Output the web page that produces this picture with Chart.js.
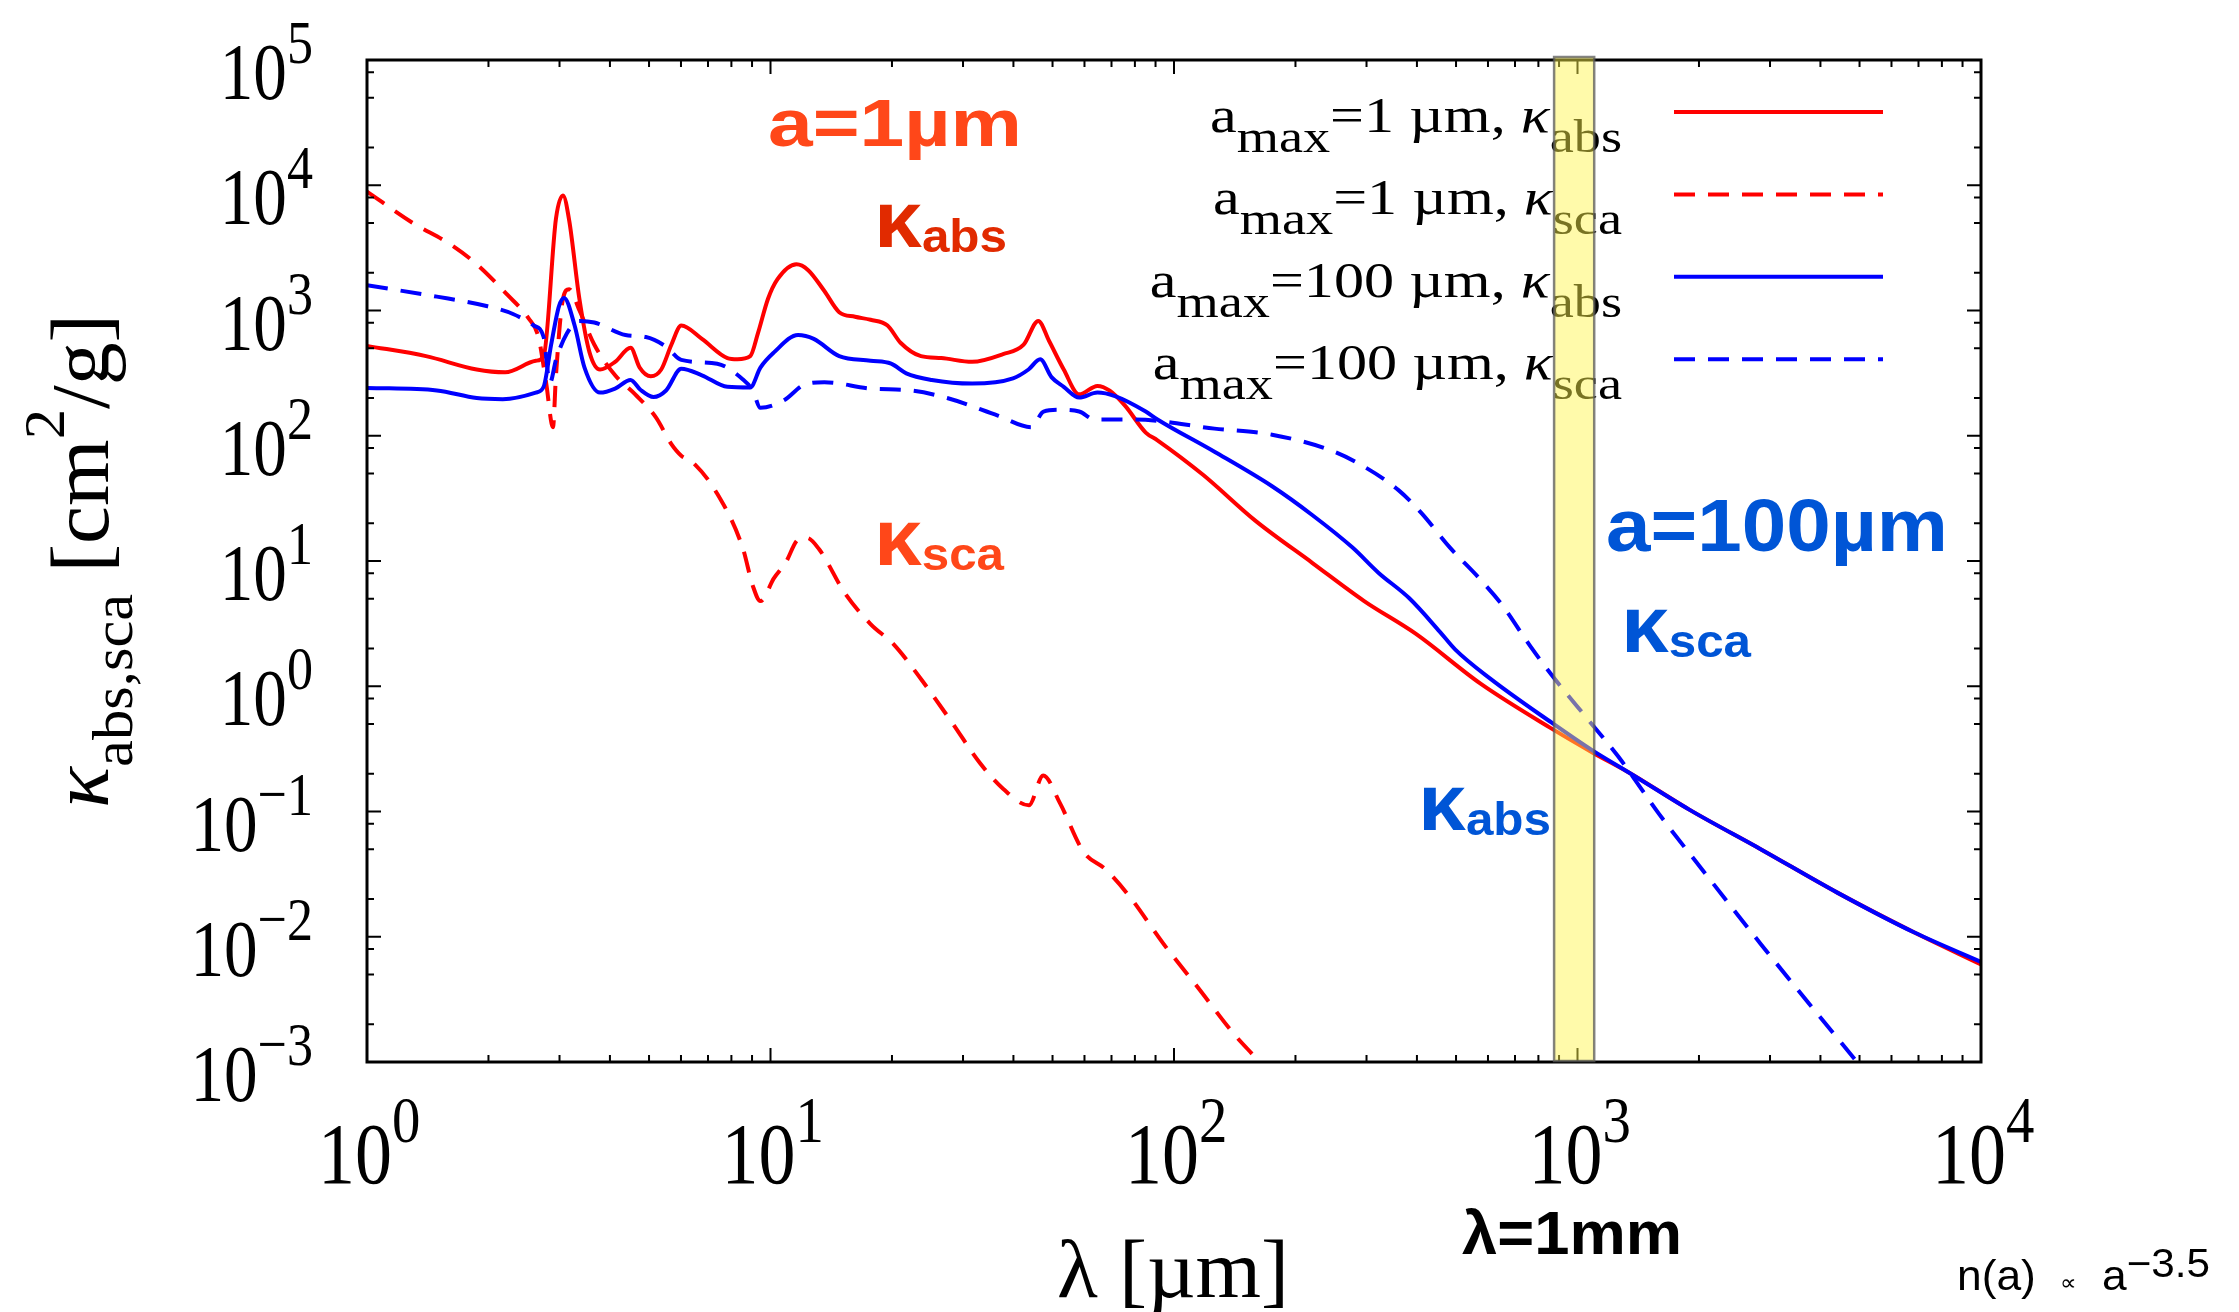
<!DOCTYPE html>
<html>
<head>
<meta charset="utf-8">
<script src="https://cdn.jsdelivr.net/npm/chart.js@4.4.0/dist/chart.umd.min.js"></script>
<style>
  body { margin: 0; background: #fff; }
  #wrap { width: 2239px; height: 1312px; }
</style>
</head>
<body>
<div id="wrap"><canvas id="chart"></canvas></div>
<script>
// wavelength [um] and opacity [cm^2/g]

// a_max = 1 um, absorption
const lamAbs1 = [1.0, 1.40, 1.87, 2.20, 2.62, 2.74, 2.94, 3.06, 3.17, 3.36, 3.56, 3.78, 4.12, 4.50, 4.74, 5.05,
  5.36, 5.68, 6.01, 6.76, 7.82, 8.28, 8.91, 9.31, 9.86, 10.4, 11.6, 12.4, 13.6, 14.8, 16.2, 17.7, 19.5, 21.0,
  23.6, 26.5, 31.6, 37.7, 42.4, 46.1, 49.0, 53.3, 58.2, 64.6, 69.3, 75.7, 85.1, 91.0, 118, 159, 220, 296, 397,
  575, 865, 1091, 1337, 1897, 2851, 4416, 6839, 10000];
const kapAbs1 = [522, 432, 338, 321, 397, 432, 5430, 8300, 5250, 1240, 463, 338, 389, 505, 350, 298,
  338, 533, 758, 593, 417, 408, 432, 659, 1240, 1770, 2340, 2100, 1430, 970, 891, 843, 759, 553,
  432, 417, 389, 448, 533, 826, 573, 338, 214, 250, 229, 173, 106, 92, 48.8, 21.0, 9.68, 4.79, 2.63,
  1.05, 0.457, 0.295, 0.206, 0.103, 0.0498, 0.0224, 0.0108, 0.0060];

// a_max = 1 um, scattering
const lamSca1 = [1.0, 1.29, 1.62, 1.87, 2.23, 2.51, 2.66, 2.78, 2.89, 2.94, 3.06, 3.17, 3.36, 3.66, 4.12, 4.62,
  5.20, 5.68, 6.01, 6.38, 7.38, 8.53, 9.04, 9.44, 10.2, 10.9, 11.7, 12.3, 13.2, 15.3, 17.7, 20.2, 23.8, 28.1,
  33.0, 37.7, 43.7, 47.4, 52.2, 59.6, 67.9, 77.4, 94.2, 115, 140, 157, 178];
const kapSca1 = [8900, 5070, 3330, 2340, 1330, 873, 614, 264, 117, 304, 1240, 1480, 1005, 533, 304, 214,
  140, 85.7, 69.3, 62.4, 34.4, 12.8, 6.34, 4.79, 7.29, 9.68, 14.8, 15.3, 12.4, 5.51, 3.14, 2.16, 1.10, 0.519,
  0.245, 0.152, 0.112, 0.194, 0.116, 0.048, 0.0342, 0.0212, 0.00877, 0.00388, 0.00171, 0.00114, 0.00074];

// a_max = 100 um, absorption
const lamAbs100 = [1.0, 1.49, 1.87, 2.17, 2.62, 2.74, 2.86, 2.99, 3.08, 3.27, 3.46, 3.78, 4.12, 4.50, 4.76, 5.13,
  5.51, 6.01, 6.76, 7.82, 8.91, 9.44, 10.2, 11.7, 12.8, 14.8, 17.7, 19.9, 21.7, 25.1, 31.6, 39.9, 43.6, 46.6,
  49.7, 53.3, 58.2, 64.6, 71.4, 85.1, 91.0, 126, 175, 220, 277, 321, 383, 456, 498, 610, 865, 1091, 1337,
  1897, 2851, 4416, 6839, 10000];
const kapAbs100 = [241, 230, 200, 196, 221, 246, 533, 1080, 1260, 759, 350, 221, 238, 279, 233, 204,
  230, 343, 304, 246, 243, 350, 463, 637, 593, 432, 397, 376, 315, 279, 261, 287, 338, 408,
  294, 246, 202, 221, 207, 156, 135, 74.5, 39.5, 23.3, 12.8, 8.07, 5.04, 2.72, 1.96, 1.14, 0.509, 0.306, 0.206,
  0.103, 0.0498, 0.0224, 0.0108, 0.0063];

// a_max = 100 um, scattering
const lamSca100 = [1.0, 1.49, 1.99, 2.30, 2.59, 2.74, 2.84, 2.94, 3.13, 3.36, 3.66, 4.37, 4.91, 5.51, 6.01, 7.38,
  8.53, 9.04, 9.44, 10.8, 12.1, 13.6, 17.7, 22.3, 27.4, 36.6, 44.3, 47.5, 51.9, 58.2, 63.5, 79.8, 126, 175,
  243, 286, 360, 410, 483, 570, 650, 766, 865, 1059, 1262, 1592, 2070, 2851, 3819, 4955];
const kapSca100 = [1590, 1290, 1080, 938, 759, 614, 264, 403, 659, 826, 802, 637, 614, 515, 403, 376,
  283, 230, 167, 192, 255, 268, 238, 230, 200, 145, 117, 156, 161, 156, 135, 135, 114, 102,
  77.1, 60.3, 36.8, 24.2, 12.8, 7.31, 4.47, 2.06, 1.22, 0.548, 0.275, 0.0957, 0.0322, 0.00869, 0.00272, 0.00098];

// axes
const xTickExp = [0, 1, 2, 3, 4];
const yTickExp = [-3, -2, -1, 0, 1, 2, 3, 4, 5];
const xMinor = [2, 3, 4, 5, 6, 7, 8, 9];
const yMinor = [2, 5, 8];
const band1mm = [875, 1100];

const legendRows = [
  { a: '1', k: 'abs', color: '#ff0000', dash: [] },
  { a: '1', k: 'sca', color: '#ff0000', dash: [21, 13] },
  { a: '100', k: 'abs', color: '#0000ff', dash: [] },
  { a: '100', k: 'sca', color: '#0000ff', dash: [21, 13] }
];

function pts(xs, ys) {
  return xs.map((x, i) => ({ x: x, y: ys[i] }));
}

// draw a row of text pieces (font / vertical shift) squeezed or stretched to a width
function runs(ctx, parts, x, y, opt) {
  opt = opt || {};
  let w = 0;
  parts.forEach(p => { ctx.font = p.font; p.w = ctx.measureText(p.t).width; w += p.w; });
  const sx = opt.width ? opt.width / w : (opt.sx || 1);
  let x0 = x;
  if (opt.align === 'right') x0 = x - w * sx;
  if (opt.align === 'center') x0 = x - w * sx / 2;
  ctx.save();
  ctx.translate(x0, y);
  if (opt.rotate) ctx.rotate(opt.rotate);
  ctx.scale(sx, 1);
  ctx.textBaseline = 'alphabetic';
  ctx.textAlign = 'left';
  let cx = 0;
  parts.forEach(p => {
    ctx.font = p.font;
    ctx.fillStyle = p.color || opt.color || '#000';
    ctx.fillText(p.t, cx, p.dy || 0);
    cx += p.w;
  });
  ctx.restore();
}

const SERIF = '"Liberation Serif", "Times New Roman", serif';
const SANS = '"Liberation Sans", Arial, sans-serif';

const decor = {
  id: 'decor',
  afterDraw(chart) {
    const ctx = chart.ctx;
    const xs = chart.scales.x, ys = chart.scales.y;
    const { left, right, top, bottom } = chart.chartArea;

    // legend
    legendRows.forEach((r, i) => {
      const ly = 112 + i * 82.4;
      const F = '51px ' + SERIF, S = '46px ' + SERIF;
      runs(ctx, [
        { t: 'a', font: F },
        { t: 'max', font: S, dy: 20 },
        { t: '=' + r.a + ' \u00b5m, ', font: F },
        { t: '\u03ba', font: 'italic ' + F },
        { t: r.k, font: S, dy: 20 }
      ], 1622, ly + 20, { align: 'right', sx: 1.18 });
      ctx.save();
      ctx.strokeStyle = r.color;
      ctx.lineWidth = 4;
      ctx.setLineDash(r.dash);
      ctx.beginPath();
      ctx.moveTo(1674, ly);
      ctx.lineTo(1883, ly);
      ctx.stroke();
      ctx.restore();
    });

    // annotations
    const B = s => 'bold ' + s + 'px ' + SANS;
    runs(ctx, [{ t: 'a=1\u00b5m', font: B(66) }], 768, 146, { width: 254, color: '#ff4719' });
    runs(ctx, [{ t: '\u03ba', font: B(80) }, { t: 'abs', font: B(46), dy: 5 }], 874, 247, { width: 133, color: '#e12a00' });
    runs(ctx, [{ t: '\u03ba', font: B(80) }, { t: 'sca', font: B(46), dy: 5 }], 874, 565, { width: 130, color: '#ff4719' });
    runs(ctx, [{ t: 'a=100\u00b5m', font: B(74) }], 1606, 551, { width: 342, color: '#0055d6' });
    runs(ctx, [{ t: '\u03ba', font: B(80) }, { t: 'sca', font: B(46), dy: 5 }], 1621, 652, { width: 130, color: '#0055d6' });
    runs(ctx, [{ t: '\u03ba', font: B(80) }, { t: 'abs', font: B(46), dy: 5 }], 1418, 830, { width: 133, color: '#0055d6' });

    // frame and inward ticks
    ctx.save();
    ctx.strokeStyle = '#000';
    ctx.lineWidth = 2;
    ctx.beginPath();
    for (let e = 0; e <= 4; e++) {
      const ks = e < 4 ? [1].concat(xMinor) : [1];
      ks.forEach(k => {
        const px = xs.getPixelForValue(k * Math.pow(10, e));
        const len = k === 1 ? 14 : 7;
        ctx.moveTo(px, bottom); ctx.lineTo(px, bottom - len);
        ctx.moveTo(px, top); ctx.lineTo(px, top + len);
      });
    }
    for (let e = -3; e <= 5; e++) {
      const ks = e < 5 ? [1].concat(yMinor) : [1];
      ks.forEach(k => {
        const py = ys.getPixelForValue(k * Math.pow(10, e));
        const len = k === 1 ? 14 : 7;
        ctx.moveTo(left, py); ctx.lineTo(left + len, py);
        ctx.moveTo(right, py); ctx.lineTo(right - len, py);
      });
    }
    ctx.stroke();
    ctx.lineWidth = 3;
    ctx.strokeRect(left, top, right - left, bottom - top);
    ctx.restore();

    // lambda = 1 mm band, laid over everything
    const b0 = xs.getPixelForValue(band1mm[0]), b1 = xs.getPixelForValue(band1mm[1]);
    ctx.save();
    ctx.fillStyle = 'rgba(255, 244, 74, 0.47)';
    ctx.fillRect(b0, top - 3, b1 - b0, bottom - top + 2);
    ctx.strokeStyle = 'rgba(90, 90, 90, 0.75)';
    ctx.lineWidth = 2.5;
    ctx.strokeRect(b0, top - 3, b1 - b0, bottom - top + 2);
    ctx.restore();

    // tick labels
    xTickExp.forEach(e => {
      const px = xs.getPixelForValue(Math.pow(10, e));
      runs(ctx, [
        { t: '10', font: '86px ' + SERIF },
        { t: String(e), font: '66px ' + SERIF, dy: -41 }
      ], px - 49, 1183, { sx: 0.86 });
    });
    yTickExp.forEach(e => {
      const py = ys.getPixelForValue(Math.pow(10, e));
      runs(ctx, [
        { t: '10', font: '80px ' + SERIF },
        { t: e < 0 ? '\u2212' + (-e) : String(e), font: '62px ' + SERIF, dy: -36 }
      ], 313, py + 39, { align: 'right', sx: 0.84 });
    });

    // axis titles
    runs(ctx, [{ t: '\u03bb [\u00b5m]', font: '82px ' + SERIF }], 1057, 1297, { width: 232 });
    runs(ctx, [
      { t: '\u03ba', font: 'italic 82px ' + SERIF },
      { t: 'abs,sca', font: '58px ' + SERIF, dy: 24 },
      { t: ' [cm', font: '82px ' + SERIF },
      { t: '2', font: '58px ' + SERIF, dy: -44 },
      { t: '/g]', font: '82px ' + SERIF }
    ], 108, 808, { width: 494, rotate: -Math.PI / 2 });

    // extra labels
    runs(ctx, [{ t: '\u03bb=1mm', font: B(61) }], 1462, 1254, { width: 220 });
    runs(ctx, [
      { t: 'n(a)  ', font: '42px ' + SANS },
      { t: '\u221d', font: '22px ' + SANS },
      { t: '  a', font: '42px ' + SANS },
      { t: '\u22123.5', font: '40px ' + SANS, dy: -13 }
    ], 1957, 1290, { width: 253 });
  }
};

const solid = [], dashed = [21, 13];
new Chart(document.getElementById('chart'), {
  type: 'line',
  data: {
    // lower "order" is drawn on top: the blue absorption curve covers the red one at long wavelengths
    datasets: [
      { data: pts(lamAbs1, kapAbs1), borderColor: '#ff0000', borderWidth: 4, borderDash: solid, order: 3 },
      { data: pts(lamSca1, kapSca1), borderColor: '#ff0000', borderWidth: 4, borderDash: dashed, order: 2 },
      { data: pts(lamAbs100, kapAbs100), borderColor: '#0000ff', borderWidth: 4, borderDash: solid, order: 0 },
      { data: pts(lamSca100, kapSca100), borderColor: '#0000ff', borderWidth: 4, borderDash: dashed, order: 1 }
    ]
  },
  options: {
    responsive: true,
    maintainAspectRatio: false,
    animation: false,
    layout: { padding: { left: 367, right: 258, top: 60, bottom: 250 } },
    elements: {
      point: { radius: 0 },
      line: { cubicInterpolationMode: 'monotone', fill: false }
    },
    plugins: { legend: { display: false }, tooltip: { enabled: false } },
    scales: {
      x: {
        type: 'logarithmic', min: 1, max: 10000,
        ticks: { display: false }, grid: { display: false, drawTicks: false }, border: { display: false }
      },
      y: {
        type: 'logarithmic', min: 0.001, max: 100000,
        ticks: { display: false }, grid: { display: false, drawTicks: false }, border: { display: false }
      }
    }
  },
  plugins: [decor]
});
</script>
</body>
</html>
